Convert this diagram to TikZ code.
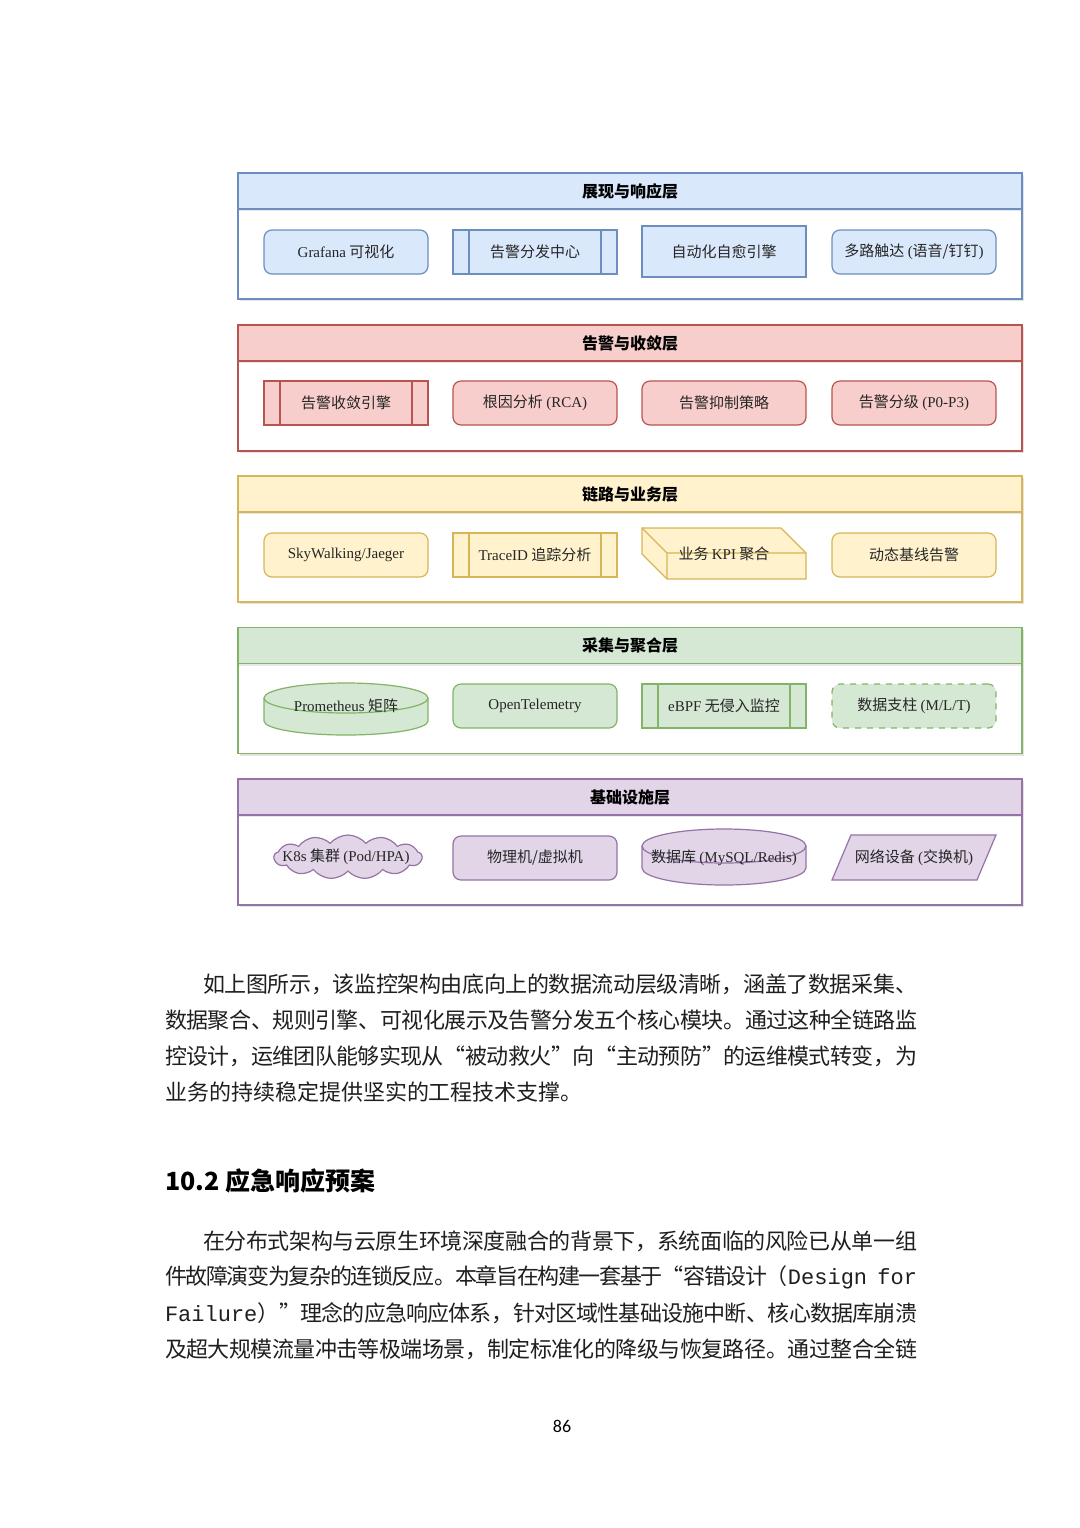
\documentclass[tikz,border=0pt]{standalone}
\usepackage{fontspec}
\setmainfont{Noto Sans CJK SC}
\newfontfamily\lat{Liberation Serif}
\newfontfamily\mono{Liberation Mono}
\newfontfamily\pgnum{Carlito}
\usetikzlibrary{shapes.symbols,shadows}
\XeTeXlinebreaklocale "zh"
\XeTeXlinebreakskip=0pt plus 2pt minus 1pt
\XeTeXlinebreakpenalty=10000
\newcommand\jline[2]{\parbox{#1}{\parindent=0pt\parfillskip=0pt\relax #2}}
\definecolor{bF}{HTML}{DAE8FC}\definecolor{bS}{HTML}{6C8EBF}
\definecolor{rF}{HTML}{F8CECC}\definecolor{rS}{HTML}{B85450}
\definecolor{yF}{HTML}{FFF2CC}\definecolor{yS}{HTML}{D6B656}
\definecolor{gF}{HTML}{D5E8D4}\definecolor{gS}{HTML}{82B366}
\definecolor{pF}{HTML}{E1D5E7}\definecolor{pS}{HTML}{9673A6}
\begin{document}
\begin{tikzpicture}[x=0.5pt,y=-0.5pt,
  every node/.style={inner sep=0pt, outer sep=0pt},
  lw/.style={line width=0.6pt},
  lay/.style={draw=#1, lw, fill=white, minimum width=392pt, minimum height=63pt,
    drop shadow={shadow xshift=1.2pt, shadow yshift=-1.2pt, opacity=0.22}},
  hdr/.style 2 args={draw=#1, fill=#2, lw, minimum width=392pt, minimum height=18pt, anchor=north,
    font=\fontsize{8pt}{10pt}\selectfont\bfseries, text=black,
    drop shadow={shadow xshift=0pt, shadow yshift=-1.2pt, opacity=0.18}},
  lbl/.style={font=\fontsize{7.5pt}{9pt}\selectfont, text=black!85},
  rbox/.style 2 args={draw=#1, fill=#2, lw, rounded corners=4pt, minimum width=82pt, minimum height=22pt, lbl},
  sbox/.style 2 args={draw=#1, fill=#2, lw, minimum width=82pt, minimum height=22pt, lbl},
  pbox/.style 2 args={sbox={#1}{#2}, path picture={
    \draw[#1, line width=0.6pt] ([xshift=8pt]path picture bounding box.north west) -- ([xshift=8pt]path picture bounding box.south west)
      ([xshift=-8pt]path picture bounding box.north east) -- ([xshift=-8pt]path picture bounding box.south east);}},
  shp/.style 2 args={draw=#1, fill=#2, lw},
  body/.style={anchor=west, font=\fontsize{11pt}{13pt}\selectfont, text=black!88},
]
\fill[white] (0,0) rectangle (1080,1528);
\useasboundingbox (0,0) rectangle (1080,1528);

% ---------- Layer 1 ----------
\node[lay=bS] (L1) at (630,236) {};
\node[hdr={bS}{bF}] (H1) at (L1.north) {展现与响应层};
\node[rbox={bS}{bF}] (a1) at (346,252) {{\lat Grafana} 可视化};
\node[pbox={bS}{bF}] (a2) at (535,252) {告警分发中心};
\node[sbox={bS}{bF}, minimum height=25.5pt] (a3) at (724,251.5) {自动化自愈引擎};
\node[rbox={bS}{bF}] (a4) at (914,252) {多路触达 {\lat (}语音/钉钉{\lat )}};

% ---------- Layer 2 ----------
\node[lay=rS] (L2) at (630,388) {};
\node[hdr={rS}{rF}] (H2) at (L2.north) {告警与收敛层};
\node[pbox={rS}{rF}] (b1) at (346,403) {告警收敛引擎};
\node[rbox={rS}{rF}] (b2) at (535,403) {根因分析 {\lat (RCA)}};
\node[rbox={rS}{rF}] (b3) at (724,403) {告警抑制策略};
\node[rbox={rS}{rF}] (b4) at (914,403) {告警分级 {\lat (P0-P3)}};

% ---------- Layer 3 ----------
\node[lay=yS] (L3) at (630,539) {};
\node[hdr={yS}{yF}] (H3) at (L3.north) {链路与业务层};
\node[rbox={yS}{yF}] (c1) at (346,555) {\lat SkyWalking/Jaeger};
\node[pbox={yS}{yF}] (c2) at (535,555) {{\lat TraceID} 追踪分析};
\filldraw[shp={yS}{yF}] (642,528) -- (781,528) -- (806,553) -- (806,579) -- (667,579) -- (642,554) -- cycle;
\draw[yS, lw] (642,528) -- (667,553) -- (806,553) (667,553) -- (667,579);
\node[lbl] (c3) at (724,554) {业务 {\lat KPI} 聚合};
\node[rbox={yS}{yF}] (c4) at (914,555) {动态基线告警};

% ---------- Layer 4 ----------
\node[lay=gS] (L4) at (630,690.5) {};
\node[hdr={gS}{gF}] (H4) at (L4.north) {采集与聚合层};
\filldraw[shp={gS}{gF}] (264,698) -- (264,721) arc[start angle=180, end angle=0, x radius=82, y radius=14] -- (428,698);
\filldraw[shp={gS}{gF}] (346,698) ellipse[x radius=82, y radius=15];
\node[lbl] (d1) at (346,706) {{\lat Prometheus} 矩阵};
\node[rbox={gS}{gF}] (d2) at (535,706) {\lat OpenTelemetry};
\node[pbox={gS}{gF}] (d3) at (724,706) {{\lat eBPF} 无侵入监控};
\node[rbox={gS}{gF}, dashed] (d4) at (914,706) {数据支柱 {\lat (M/L/T)}};

% ---------- Layer 5 ----------
\node[lay=pS] (L5) at (630,842) {};
\node[hdr={pS}{pF}] (H5) at (L5.north) {基础设施层};
\node[cloud, cloud puffs=13, cloud puff arc=100, aspect=3.3, draw=pS, fill=pF, lw,
      minimum width=74pt, minimum height=22pt] (e1c) at (348,857) {};
\node[lbl] (e1) at (346,857) {{\lat K8s} 集群 {\lat (Pod/HPA)}};
\node[rbox={pS}{pF}] (e2) at (535,858) {物理机/虚拟机};
\filldraw[shp={pS}{pF}] (642,846) -- (642,868) arc[start angle=180, end angle=0, x radius=82, y radius=17] -- (806,846);
\filldraw[shp={pS}{pF}] (724,846) ellipse[x radius=82, y radius=17];
\node[lbl] (e3) at (724,858) {数据库 {\lat (MySQL/Redis)}};
\filldraw[shp={pS}{pF}] (851,835) -- (996,835) -- (977,880) -- (832,880) -- cycle;
\node[lbl] (e4) at (914,858) {网络设备 {\lat (}交换机{\lat )}};

% ---------- Body text ----------
\node[body] (p1a) at (203,984) {\jline{357pt}{如上图所示，该监控架构由底向上的数据流动层级清晰，涵盖了数据采集、}};
\node[body] (p1b) at (165,1020) {\jline{376pt}{数据聚合、规则引擎、可视化展示及告警分发五个核心模块。通过这种全链路监}};
\node[body] (p1c) at (165,1056) {\jline{376pt}{控设计，运维团队能够实现从“被动救火”向“主动预防”的运维模式转变，为}};
\node[body] (p1d) at (165,1092) {业务的持续稳定提供坚实的工程技术支撑。};

\node[anchor=west, font=\fontsize{12.5pt}{15pt}\selectfont\bfseries, text=black] (sec) at (165,1181) {10.2 应急响应预案};

\node[body] (p2a) at (203,1241) {\jline{357pt}{在分布式架构与云原生环境深度融合的背景下，系统面临的风险已从单一组}};
\node[body] (p2b) at (165,1277) {\jline{376pt}{件故障演变为复杂的连锁反应。本章旨在构建一套基于“容错设计（{\mono Design~for}}};
\node[body] (p2c) at (165,1313) {\jline{376pt}{{\mono Failure}）”理念的应急响应体系，针对区域性基础设施中断、核心数据库崩溃}};
\node[body] (p2d) at (165,1349) {\jline{376pt}{及超大规模流量冲击等极端场景，制定标准化的降级与恢复路径。通过整合全链}};

\node[font=\pgnum\fontsize{9pt}{10pt}\selectfont, text=black] (pg) at (562,1426) {86};
\end{tikzpicture}
\end{document}
